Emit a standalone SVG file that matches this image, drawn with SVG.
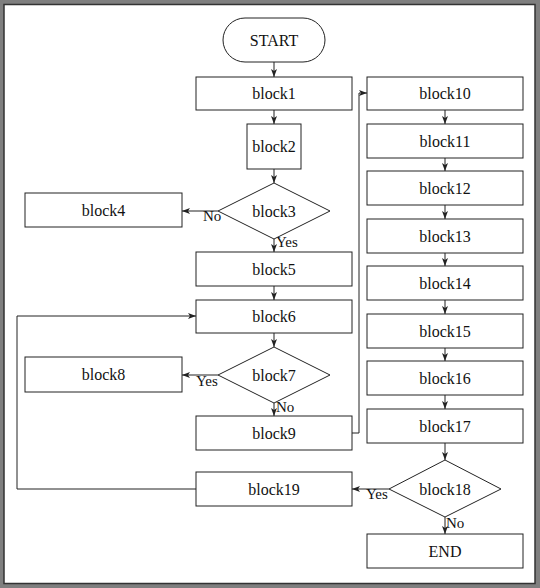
<svg xmlns="http://www.w3.org/2000/svg" width="540" height="588" viewBox="0 0 540 588">
<style>
.n{fill:#fff;stroke:#222;stroke-width:1}
.t{font-family:"Liberation Serif",serif;font-size:16px;fill:#111;text-anchor:middle;dominant-baseline:central}
.l{font-family:"Liberation Serif",serif;font-size:15px;fill:#111}
.c{fill:none;stroke:#222;stroke-width:1;marker-end:url(#a)}
</style>
<defs>
<marker id="a" viewBox="0 0 8 6" refX="8" refY="3" markerWidth="8" markerHeight="6" markerUnits="userSpaceOnUse" orient="auto">
<path d="M0,0 L8,3 L0,6 L2,3 Z" fill="#222"/>
</marker>
</defs>
<rect x="0" y="0" width="540" height="588" fill="#7f7f7f"/>
<rect x="4" y="4.5" width="531" height="579" fill="#fff" stroke="#333" stroke-width="1.5"/>
<g id="connectors">
<path class="c" d="M274,62 V77"/>
<path class="c" d="M274,110 V124"/>
<path class="c" d="M274,169 V183"/>
<path class="c" d="M218,211 H182"/>
<path class="c" d="M274,239 V252"/>
<path class="c" d="M274,286 V300"/>
<path class="c" d="M274,333 V347"/>
<path class="c" d="M218,375 H182"/>
<path class="c" d="M274,403 V416"/>
<path class="c" d="M352,433 H359 V93 H367"/>
<path class="c" d="M445,110 V124"/>
<path class="c" d="M445,158 V171"/>
<path class="c" d="M445,205 V219"/>
<path class="c" d="M445,253 V266"/>
<path class="c" d="M445,300 V314"/>
<path class="c" d="M445,348 V361"/>
<path class="c" d="M445,395 V409"/>
<path class="c" d="M445,443 V460"/>
<path class="c" d="M389,489 H352"/>
<path class="c" d="M445,517 V534"/>
<path class="c" d="M196,489 H17 V316 H196"/>
<text class="l" x="203" y="221">No</text>
<text class="l" x="276" y="247">Yes</text>
<text class="l" x="196" y="386">Yes</text>
<text class="l" x="276" y="412">No</text>
<text class="l" x="366" y="499">Yes</text>
<text class="l" x="446" y="528">No</text>
</g>
<g id="start"><rect class="n" x="223" y="18" width="102" height="44" rx="22"/><text class="t" x="274" y="40">START</text></g>
<g id="block1"><rect class="n" x="196" y="77" width="156" height="33"/><text class="t" x="274" y="93.5">block1</text></g>
<g id="block2"><rect class="n" x="247" y="124" width="54" height="45"/><text class="t" x="274" y="146.5">block2</text></g>
<g id="block3"><path class="n" d="M274,183 L330,211 L274,239 L218,211 Z"/><text class="t" x="274" y="211">block3</text></g>
<g id="block4"><rect class="n" x="25" y="193" width="157" height="34"/><text class="t" x="103.5" y="210">block4</text></g>
<g id="block5"><rect class="n" x="196" y="252" width="156" height="34"/><text class="t" x="274" y="269">block5</text></g>
<g id="block6"><rect class="n" x="196" y="300" width="156" height="33"/><text class="t" x="274" y="316.5">block6</text></g>
<g id="block7"><path class="n" d="M274,347 L330,375 L274,403 L218,375 Z"/><text class="t" x="274" y="375">block7</text></g>
<g id="block8"><rect class="n" x="25" y="357" width="157" height="35"/><text class="t" x="103.5" y="374.5">block8</text></g>
<g id="block9"><rect class="n" x="196" y="416" width="156" height="34"/><text class="t" x="274" y="433">block9</text></g>
<g id="block10"><rect class="n" x="367" y="77" width="156" height="33"/><text class="t" x="445" y="93.5">block10</text></g>
<g id="block11"><rect class="n" x="367" y="124" width="156" height="34"/><text class="t" x="445" y="141">block11</text></g>
<g id="block12"><rect class="n" x="367" y="171" width="156" height="34"/><text class="t" x="445" y="188">block12</text></g>
<g id="block13"><rect class="n" x="367" y="219" width="156" height="34"/><text class="t" x="445" y="236">block13</text></g>
<g id="block14"><rect class="n" x="367" y="266" width="156" height="34"/><text class="t" x="445" y="283">block14</text></g>
<g id="block15"><rect class="n" x="367" y="314" width="156" height="34"/><text class="t" x="445" y="331">block15</text></g>
<g id="block16"><rect class="n" x="367" y="361" width="156" height="34"/><text class="t" x="445" y="378">block16</text></g>
<g id="block17"><rect class="n" x="367" y="409" width="156" height="34"/><text class="t" x="445" y="426">block17</text></g>
<g id="block18"><path class="n" d="M445,460 L501,489 L445,517 L389,489 Z"/><text class="t" x="445" y="489">block18</text></g>
<g id="block19"><rect class="n" x="196" y="472" width="156" height="34"/><text class="t" x="274" y="489">block19</text></g>
<g id="end"><rect class="n" x="367" y="534" width="156" height="34"/><text class="t" x="445" y="551">END</text></g>
</svg>
